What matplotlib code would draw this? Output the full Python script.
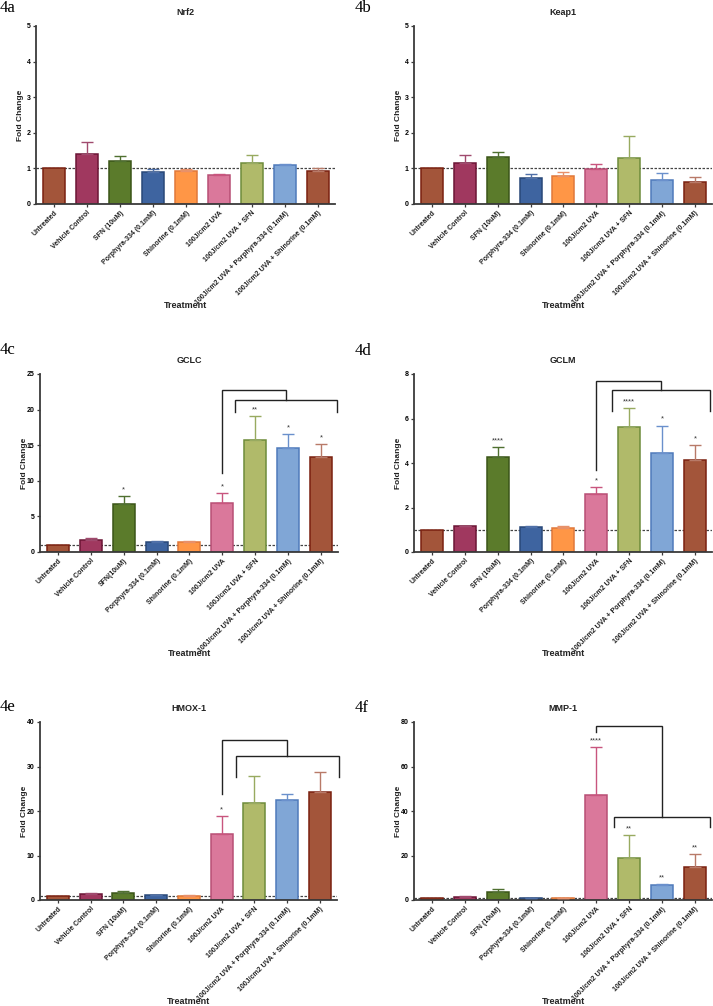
import matplotlib
matplotlib.use("Agg")
import matplotlib.pyplot as plt
import numpy as np

plt.rcParams['font.family'] = ['Liberation Sans', 'DejaVu Sans']

# ---------------- data ----------------
categories = ["Untreated", "Vehicle Control", "SFN (10uM)", "Porphyra-334 (0.1mM)",
              "Shinorine (0.1mM)", "100J/cm2 UVA", "100J/cm2 UVA + SFN",
              "100J/cm2 UVA + Porphyra-334 (0.1mM)", "100J/cm2 UVA + Shinorine (0.1mM)"]
categories_gclc = ["Untreated", "Vehicle Control", "SFN(10uM)", "Porphyra-334 (0.1mM)",
                   "Shinorine (0.1mM)", "100J/cm2 UVA", "100J/cm2 UVA + SFN",
                   "100J/cm2 UVA + Porphyra-334 (0.1mM)", "100J/cm2 UVA + Shinorine (0.1mM)"]

nrf2_mean = [1.00, 1.40, 1.22, 0.90, 0.92, 0.82, 1.14, 1.10, 0.92]
nrf2_top  = [1.00, 1.75, 1.34, 0.98, 0.97, 0.85, 1.39, 1.12, 1.00]

keap1_mean = [1.00, 1.14, 1.33, 0.73, 0.80, 0.98, 1.29, 0.67, 0.62]
keap1_top  = [1.00, 1.39, 1.47, 0.83, 0.91, 1.13, 1.90, 0.88, 0.76]

gclc_mean = [1.00, 1.64, 6.70, 1.36, 1.36, 6.90, 15.8, 14.6, 13.3]
gclc_top  = [1.00, 1.92, 7.80, 1.50, 1.60, 8.30, 19.1, 16.6, 15.2]
gclc_sig  = ["", "", "*", "", "", "*", "**", "*", "*"]

gclm_mean = [1.00, 1.15, 4.27, 1.11, 1.08, 2.62, 5.63, 4.46, 4.15]
gclm_top  = [1.00, 1.18, 4.70, 1.15, 1.15, 2.92, 6.46, 5.68, 4.79]
gclm_sig  = ["", "", "****", "", "", "*", "****", "*", "*"]

hmox_mean = [1.00, 1.28, 1.65, 1.05, 1.00, 14.9, 21.9, 22.4, 24.2]
hmox_top  = [1.00, 1.50, 2.10, 1.20, 1.05, 18.8, 27.8, 23.9, 28.7]
hmox_sig  = ["", "", "", "", "", "*", "", "", ""]

mmp_mean = [1.00, 1.35, 3.45, 0.75, 0.75, 47.0, 18.9, 6.9, 14.7]
mmp_top  = [1.00, 1.80, 4.80, 0.90, 0.80, 68.9, 29.1, 7.05, 20.7]
mmp_sig  = ["", "", "", "", "", "****", "**", "**", "**"]

face_colors = ['#a3553a', '#a0385f', '#5b7b2b', '#3e64a0', '#ff9646',
               '#da789b', '#b0ba6a', '#80a6d6', '#a3553a']
edge_colors = ['#7a2010', '#6b1535', '#3a5518', '#284878', '#e0783a',
               '#b84f75', '#6e8c3a', '#4f7abb', '#7a2010']
err_colors  = ['#9a4a35', '#a04a6e', '#4f7030', '#4f70a8', '#e8906a',
               '#c8557e', '#98aa60', '#6a90cc', '#b87a68']

# bracket annotations: (outer_x, outer_y0, outer_ytop, inner_xl, inner_xr, inner_y, inner_ybot)
brackets = {
    'c': (5, 11.1, 22.8, 5.38, 8.49, 21.3, 19.6),
    'd': (5, 3.69, 7.70, 5.48, 8.47, 7.28, 6.34),
    'e': (5, 23.9, 35.9, 5.43, 8.57, 32.4, 27.6),
    'f': (5, 75.5, 78.4, 5.53, 8.45, 37.5, 33.0),
}

panels = [
    dict(key='a', title='Nrf2', cats=categories, mean=nrf2_mean, top=nrf2_top, sig=None,
         ylim=5, yticks=[0, 1, 2, 3, 4, 5], rect=(36, 26, 335, 204), lab=(0, 12)),
    dict(key='b', title='Keap1', cats=categories, mean=keap1_mean, top=keap1_top, sig=None,
         ylim=5, yticks=[0, 1, 2, 3, 4, 5], rect=(414, 26, 712, 204), lab=(355, 12)),
    dict(key='c', title='GCLC', cats=categories_gclc, mean=gclc_mean, top=gclc_top, sig=gclc_sig,
         ylim=25, yticks=[0, 5, 10, 15, 20, 25], rect=(40, 374, 338, 552), lab=(0, 354)),
    dict(key='d', title='GCLM', cats=categories, mean=gclm_mean, top=gclm_top, sig=gclm_sig,
         ylim=8, yticks=[0, 2, 4, 6, 8], rect=(414, 374, 712, 552), lab=(355, 355)),
    dict(key='e', title='HMOX-1', cats=categories, mean=hmox_mean, top=hmox_top, sig=hmox_sig,
         ylim=40, yticks=[0, 10, 20, 30, 40], rect=(40, 722, 337, 900), lab=(0, 711)),
    dict(key='f', title='MMP-1', cats=categories, mean=mmp_mean, top=mmp_top, sig=mmp_sig,
         ylim=80, yticks=[0, 20, 40, 60, 80], rect=(414, 722, 712, 900), lab=(355, 712)),
]

W, H = 713, 1006
fig = plt.figure(figsize=(W / 100, H / 100), dpi=100)

spine_col = '#3a3a3a'
for p in panels:
    l, t, r, b = p['rect']
    ax = fig.add_axes([l / W, 1 - b / H, (r - l) / W, (b - t) / H])
    x = np.arange(len(p['cats']))
    mean = np.array(p['mean'])
    top = np.array(p['top'])
    ax.axhline(1, color='#444444', lw=0.9, ls=(0, (2.0, 1.2)), zorder=1)
    ax.bar(x, mean, width=0.67, color=face_colors, edgecolor=edge_colors,
           linewidth=1.1, zorder=2)
    for i in range(len(x)):
        if top[i] > mean[i] + 1e-9:
            ax.errorbar(x[i], mean[i], yerr=[[0], [top[i] - mean[i]]], fmt='none',
                        ecolor=err_colors[i], elinewidth=1.0, capsize=4.2,
                        capthick=1.0, zorder=3)
        if p['sig'] and p['sig'][i]:
            ax.annotate(p['sig'][i], (x[i], top[i]), xytext=(0, 2), textcoords='offset points',
                        ha='center', va='bottom', fontsize=5.5, color='#333333')
    if p['key'] in brackets:
        ox, oy0, oyt, xl, xr, yi, yb = brackets[p['key']]
        xm = (xl + xr) / 2
        ax.plot([ox, ox, xm, xm], [oy0, oyt, oyt, yi], color='#222222', lw=1.0,
                clip_on=False, zorder=4, solid_joinstyle='miter')
        ax.plot([xl, xl, xr, xr], [yb, yi, yi, yb], color='#222222', lw=1.0,
                clip_on=False, zorder=4, solid_joinstyle='miter')

    ax.set_xlim(-0.545, 8.52)
    ax.set_ylim(0, p['ylim'])
    ax.set_yticks(p['yticks'])
    ax.set_yticklabels([str(v) for v in p['yticks']], fontsize=5, fontweight='bold')
    ax.set_xticks(x)
    ax.set_xticklabels(p['cats'], rotation=45, ha='right', rotation_mode='anchor',
                       fontsize=5, fontweight='bold', color='#222222')
    for s in ['top', 'right']:
        ax.spines[s].set_visible(False)
    for s in ['left', 'bottom']:
        ax.spines[s].set_color(spine_col)
        ax.spines[s].set_linewidth(1.3)
    ax.tick_params(axis='both', length=2.5, width=0.9, color=spine_col, pad=1.5)
    ax.set_title(p['title'], fontsize=6.5, fontweight='bold', pad=8, color='#222222')
    ax.set_xlabel('Treatment', fontsize=6.5, fontweight='bold', va='center', color='#222222')
    ax.xaxis.set_label_coords(0.5, -0.573)
    ax.set_ylabel('Fold Change', fontsize=6, fontweight='bold', va='center', color='#222222')
    ax.yaxis.set_label_coords(-15.5 / (r - l), 0.5)
    ax.set_facecolor('none')

    fig.text(p['lab'][0] / W, 1 - p['lab'][1] / H, '4' + p['key'],
             fontsize=12, family=['Liberation Serif', 'DejaVu Serif'],
             ha='left', va='baseline')

fig.savefig('out.png', dpi=100, facecolor='white')
